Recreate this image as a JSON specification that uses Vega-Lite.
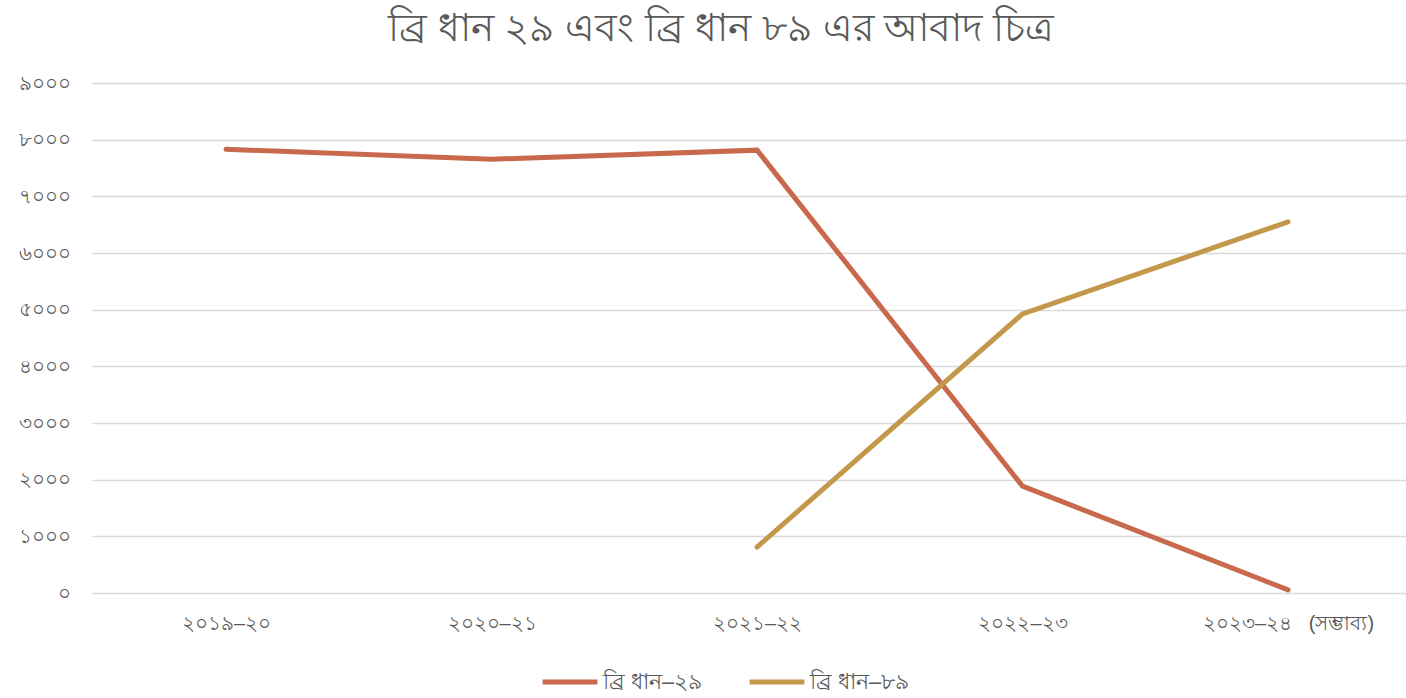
{
  "$schema": "https://vega.github.io/schema/vega-lite/v6.json",
  "width": 1314,
  "height": 510,
  "autosize": {"type": "none"},
  "padding": {"left": 92, "top": 83, "right": 0, "bottom": 105},
  "background": "#ffffff",
  "title": {
    "text": "ব্রি ধান ২৯ এবং ব্রি ধান ৮৯ এর আবাদ চিত্র",
    "fontSize": 39,
    "fontWeight": "normal",
    "color": "#595959",
    "anchor": "middle",
    "dx": -28,
    "offset": 24
  },
  "data": {
    "values": [
      {"year": "২০১৯–২০", "series": "ব্রি  ধান–২৯", "value": 7830},
      {"year": "২০২০–২১", "series": "ব্রি  ধান–২৯", "value": 7655},
      {"year": "২০২১–২২", "series": "ব্রি  ধান–২৯", "value": 7815},
      {"year": "২০২২–২৩", "series": "ব্রি  ধান–২৯", "value": 1885},
      {"year": "২০২৩–২৪\u00a0\u00a0\u00a0(সম্ভাব্য)", "series": "ব্রি  ধান–২৯", "value": 55},
      {"year": "২০২১–২২", "series": "ব্রি  ধান–৮৯", "value": 810},
      {"year": "২০২২–২৩", "series": "ব্রি  ধান–৮৯", "value": 4925},
      {"year": "২০২৩–২৪\u00a0\u00a0\u00a0(সম্ভাব্য)", "series": "ব্রি  ধান–৮৯", "value": 6550}
    ]
  },
  "mark": {"type": "line", "strokeWidth": 5, "strokeCap": "round", "strokeJoin": "miter"},
  "encoding": {
    "x": {
      "field": "year",
      "type": "ordinal",
      "sort": null,
      "scale": {"type": "point", "padding": 0.4746, "align": 0.532},
      "axis": {
        "title": null,
        "labelAngle": 0,
        "labelFontSize": 20,
        "labelColor": "#595959",
        "labelPadding": 20,
        "labelLimit": 400,
        "labelOverlap": false,
        "ticks": false,
        "domain": false,
        "grid": false
      }
    },
    "y": {
      "field": "value",
      "type": "quantitative",
      "scale": {"domain": [0, 9000], "nice": false},
      "axis": {
        "title": null,
        "values": [0, 1000, 2000, 3000, 4000, 5000, 6000, 7000, 8000, 9000],
        "format": "d",
        "labelExpr": "replace(replace(replace(replace(replace(replace(replace(replace(replace(replace(datum.label, regexp('0','g'), '০'), regexp('1','g'), '১'), regexp('2','g'), '২'), regexp('3','g'), '৩'), regexp('4','g'), '৪'), regexp('5','g'), '৫'), regexp('6','g'), '৬'), regexp('7','g'), '৭'), regexp('8','g'), '৮'), regexp('9','g'), '৯')",
        "labelFontSize": 20,
        "labelColor": "#595959",
        "labelPadding": 22,
        "ticks": false,
        "domain": false,
        "grid": true,
        "gridColor": "#d9d9d9",
        "gridWidth": 1.5
      }
    },
    "color": {
      "field": "series",
      "type": "nominal",
      "sort": null,
      "scale": {"range": ["#c8694d", "#c4984a"]},
      "legend": {
        "title": null,
        "orient": "none",
        "legendX": 448,
        "legendY": 569,
        "direction": "horizontal",
        "symbolType": "stroke",
        "symbolStrokeWidth": 5,
        "symbolSize": 3000,
        "labelFontSize": 22,
        "labelOffset": 3,
        "labelColor": "#595959",
        "columnPadding": 30
      }
    }
  },
  "config": {"view": {"stroke": null}}
}
